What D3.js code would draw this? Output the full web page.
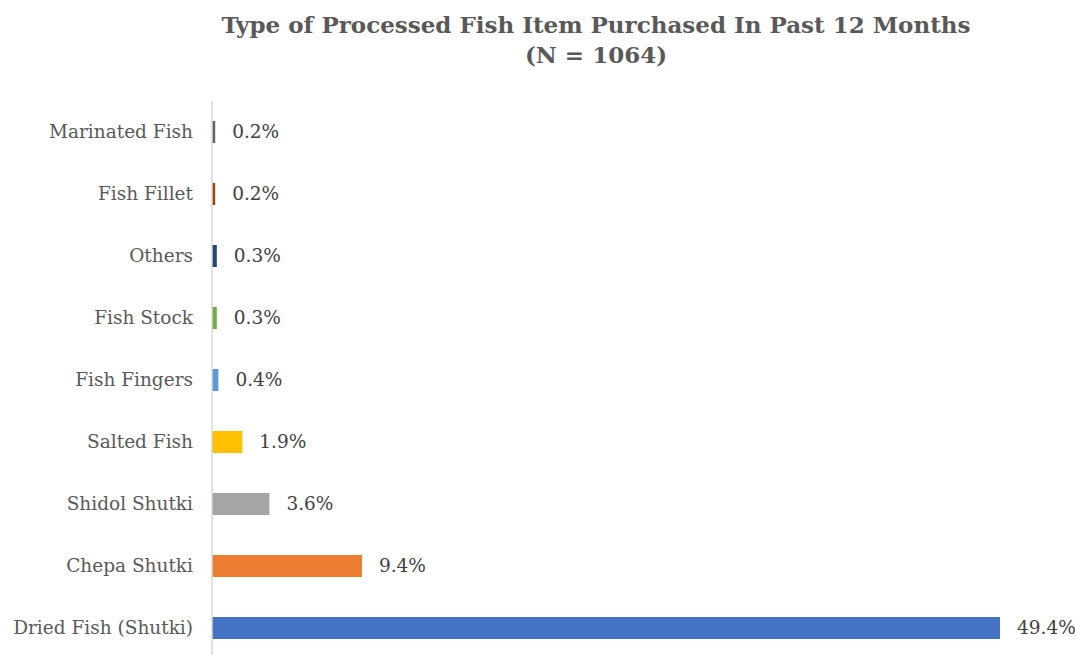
<!DOCTYPE html>
<html><head><meta charset="utf-8">
<script src="https://cdn.jsdelivr.net/npm/d3@7/dist/d3.min.js"></script>
<style>body{margin:0;background:#fff}svg{display:block}</style>
</head><body><svg id="c" width="1075" height="655"></svg>
<script>
const categories = ["Marinated Fish","Fish Fillet","Others","Fish Stock","Fish Fingers","Salted Fish","Shidol Shutki","Chepa Shutki","Dried Fish (Shutki)"];
const values = [0.2,0.2,0.3,0.3,0.4,1.9,3.6,9.4,49.4];
const colors = ["#636363","#9e480e","#264478","#70ad47","#5b9bd5","#ffc000","#a5a5a5","#ed7d31","#4472c4"];
const titleLines = ["Type of Processed Fish Item Purchased In Past 12 Months","(N = 1064)"];

(function(){
const svg = d3.select("#c");
const font = "'DejaVu Serif', serif";
const pLeft = 212, pRight = 1000, pTop = 101, pBottom = 659;
const x = d3.scaleLinear().domain([0, 49.4]).range([pLeft, pRight]);
const y = d3.scaleBand().domain(categories).range([pTop, pBottom]).paddingInner(0.645).paddingOuter(0.3225);

svg.selectAll("text.title").data(titleLines).enter().append("text")
  .attr("x", 596).attr("y", (d,i)=>33+i*30).attr("text-anchor","middle")
  .attr("font-family", font).attr("font-weight","bold").attr("font-size", 23)
  .attr("fill","#595959").text(d=>d);

svg.selectAll("rect.bar").data(categories).enter().append("rect")
  .attr("x", x(0)).attr("y", d=>y(d)).attr("height", y.bandwidth())
  .attr("width", (d,i)=>x(values[i])-x(0)).attr("fill",(d,i)=>colors[i]);

svg.append("line").attr("x1",pLeft).attr("x2",pLeft).attr("y1",pTop).attr("y2",655)
  .attr("stroke","#d9d9d9").attr("stroke-width",1.5);

const yAxis = d3.axisLeft(y).tickSize(0).tickPadding(19);
const g = svg.append("g").attr("transform",`translate(${pLeft},0)`).call(yAxis);
g.select(".domain").remove();
g.selectAll("text").attr("font-family",font).attr("font-size",18.5).attr("fill","#595959");

svg.selectAll("text.val").data(categories).enter().append("text")
  .attr("x",(d,i)=>x(values[i])+17).attr("y",d=>y(d)+y.bandwidth()/2).attr("dy","0.35em")
  .attr("font-family",font).attr("font-size",18.5).attr("fill","#404040")
  .text((d,i)=>values[i].toFixed(1)+"%");
})();
</script></body></html>
